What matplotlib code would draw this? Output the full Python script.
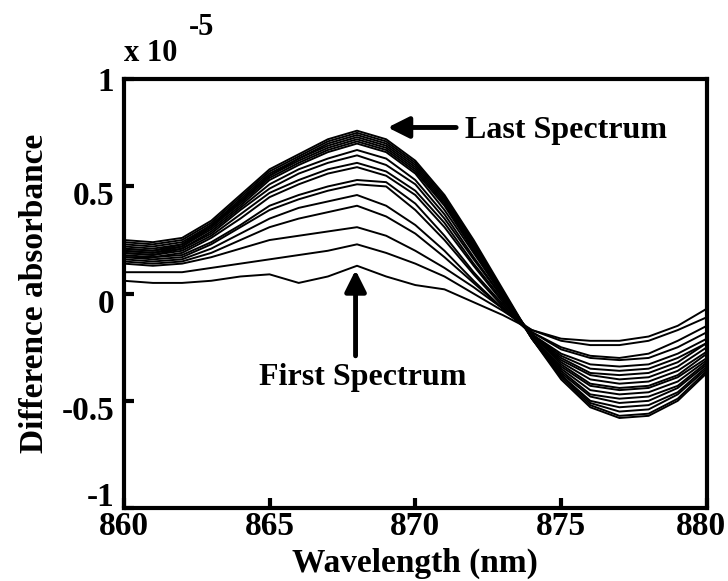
import matplotlib
matplotlib.use("Agg")
import matplotlib.pyplot as plt
from matplotlib.transforms import ScaledTranslation

plt.rcParams['font.family'] = ['Liberation Serif', 'DejaVu Serif']
plt.rcParams['font.weight'] = 'bold'

# wavelength grid (nm)
wavelength = [860, 861, 862, 863, 864, 865, 866, 867, 868, 869, 870,
              871, 872, 873, 874, 875, 876, 877, 878, 879, 880]

# difference absorbance (x 1e-5), first spectrum -> last spectrum
s01 = [0.06, 0.05, 0.05, 0.06, 0.08, 0.09, 0.05, 0.08, 0.13, 0.08, 0.04,
       0.02, -0.04, -0.10, -0.17, -0.21, -0.22, -0.22, -0.20, -0.15, -0.07]
s02 = [0.10, 0.10, 0.10, 0.12, 0.14, 0.16, 0.18, 0.20, 0.23, 0.19, 0.14,
       0.08, 0.00, -0.08, -0.17, -0.22, -0.24, -0.24, -0.22, -0.17, -0.11]
s03 = [0.14, 0.13, 0.14, 0.17, 0.21, 0.25, 0.27, 0.29, 0.31, 0.27, 0.20,
       0.12, 0.03, -0.07, -0.18, -0.25, -0.29, -0.30, -0.28, -0.22, -0.15]
s04 = [0.15, 0.14, 0.15, 0.19, 0.25, 0.31, 0.35, 0.38, 0.41, 0.36, 0.28,
       0.17, 0.05, -0.07, -0.18, -0.26, -0.30, -0.31, -0.30, -0.25, -0.18]
s05 = [0.16, 0.15, 0.16, 0.21, 0.28, 0.35, 0.40, 0.43, 0.46, 0.41, 0.32,
       0.20, 0.06, -0.07, -0.19, -0.28, -0.33, -0.34, -0.33, -0.28, -0.21]
s06 = [0.17, 0.16, 0.17, 0.23, 0.31, 0.39, 0.44, 0.48, 0.51, 0.50, 0.39,
       0.25, 0.09, -0.06, -0.19, -0.29, -0.35, -0.36, -0.35, -0.30, -0.23]
s07 = [0.17, 0.17, 0.18, 0.24, 0.32, 0.41, 0.46, 0.50, 0.53, 0.52, 0.42,
       0.27, 0.10, -0.05, -0.19, -0.30, -0.37, -0.38, -0.37, -0.32, -0.23]
s08 = [0.18, 0.17, 0.19, 0.26, 0.35, 0.45, 0.51, 0.56, 0.59, 0.55, 0.46,
       0.31, 0.13, -0.04, -0.19, -0.31, -0.38, -0.40, -0.39, -0.34, -0.25]
s09 = [0.19, 0.18, 0.20, 0.27, 0.37, 0.47, 0.53, 0.58, 0.61, 0.57, 0.48,
       0.33, 0.14, -0.03, -0.19, -0.32, -0.40, -0.42, -0.41, -0.36, -0.27]
s10 = [0.19, 0.18, 0.21, 0.28, 0.39, 0.49, 0.56, 0.61, 0.645, 0.60, 0.51,
       0.35, 0.16, -0.02, -0.19, -0.33, -0.42, -0.44, -0.43, -0.38, -0.28]
s11 = [0.20, 0.19, 0.21, 0.29, 0.40, 0.51, 0.58, 0.63, 0.67, 0.63, 0.53,
       0.37, 0.17, -0.02, -0.20, -0.34, -0.43, -0.45, -0.44, -0.39, -0.30]
s12 = [0.20, 0.19, 0.22, 0.30, 0.41, 0.53, 0.60, 0.66, 0.70, 0.66, 0.56,
       0.39, 0.19, -0.01, -0.20, -0.35, -0.45, -0.47, -0.46, -0.41, -0.31]
s13 = [0.21, 0.20, 0.22, 0.31, 0.42, 0.54, 0.61, 0.67, 0.71, 0.67, 0.57,
       0.41, 0.20, -0.01, -0.20, -0.36, -0.47, -0.49, -0.48, -0.43, -0.32]
s14 = [0.21, 0.20, 0.23, 0.31, 0.43, 0.55, 0.62, 0.68, 0.72, 0.68, 0.58,
       0.42, 0.21, 0.00, -0.20, -0.37, -0.48, -0.51, -0.50, -0.44, -0.33]
s15 = [0.22, 0.21, 0.23, 0.32, 0.43, 0.55, 0.63, 0.69, 0.73, 0.69, 0.59,
       0.43, 0.22, 0.00, -0.21, -0.38, -0.50, -0.53, -0.52, -0.46, -0.34]
s16 = [0.23, 0.22, 0.24, 0.32, 0.44, 0.56, 0.63, 0.70, 0.74, 0.70, 0.60,
       0.44, 0.23, 0.01, -0.21, -0.38, -0.51, -0.55, -0.54, -0.47, -0.35]
s17 = [0.24, 0.23, 0.25, 0.33, 0.45, 0.57, 0.64, 0.71, 0.75, 0.71, 0.61,
       0.45, 0.24, 0.01, -0.21, -0.39, -0.52, -0.57, -0.56, -0.49, -0.36]
s18 = [0.25, 0.24, 0.26, 0.34, 0.46, 0.58, 0.65, 0.72, 0.76, 0.72, 0.62,
       0.46, 0.25, 0.02, -0.21, -0.40, -0.53, -0.58, -0.57, -0.50, -0.37]

spectra = [s01, s02, s03, s04, s05, s06, s07, s08, s09,
           s10, s11, s12, s13, s14, s15, s16, s17, s18]

xticks = [860, 865, 870, 875, 880]
yticks = [-1, -0.5, 0, 0.5, 1]
ytick_labels = ['-1', '-0.5', '0', '0.5', '1']

fig = plt.figure(figsize=(7.28, 5.81), dpi=100)
ax = fig.add_axes([0.170, 0.1256, 0.801, 0.738])

for s in spectra:
    ax.plot(wavelength, s, color='black', linewidth=1.4)

ax.set_xlim(860, 880)
ax.set_ylim(-1, 1)
ax.set_xticks(xticks)
ax.set_yticks(yticks)
ax.set_yticklabels(ytick_labels)

for sp in ax.spines.values():
    sp.set_linewidth(3)

ax.tick_params(axis='both', direction='in', length=7, width=3,
               labelsize=24, top=False, right=False)
ax.tick_params(axis='y', pad=7)
ax.tick_params(axis='x', pad=2)
for lab in ax.get_xticklabels() + ax.get_yticklabels():
    lab.set_fontweight('bold')

# nudge some tick labels like in the original export
ylabs = ax.get_yticklabels()
ylabs[0].set_transform(ylabs[0].get_transform() + ScaledTranslation(0, 10 / 72, fig.dpi_scale_trans))
for lab in ylabs[1:4]:
    lab.set_transform(lab.get_transform() + ScaledTranslation(0, -5 / 72, fig.dpi_scale_trans))
xlabs = ax.get_xticklabels()
xlabs[-1].set_transform(xlabs[-1].get_transform() + ScaledTranslation(-4 / 72, 0, fig.dpi_scale_trans))

ax.set_xlabel('Wavelength (nm)', fontsize=24, fontweight='bold', labelpad=4)
ax.set_ylabel('Difference absorbance', fontsize=24, fontweight='bold', labelpad=8)

# scale factor text
fig.text(0.170, 0.883, 'x 10', fontsize=22, fontweight='bold', ha='left', va='bottom')
fig.text(0.259, 0.927, '-5', fontsize=22, fontweight='bold', ha='left', va='bottom')

# arrows
arrow = dict(arrowstyle='-|>', color='black', lw=3.5, mutation_scale=32,
             shrinkA=0, shrinkB=0)
ax.annotate('', xy=(869.05, 0.775), xytext=(871.4, 0.775), arrowprops=arrow)
ax.text(871.7, 0.76, 'Last Spectrum', fontsize=23, fontweight='bold',
        ha='left', va='center')
ax.annotate('', xy=(867.95, 0.11), xytext=(867.95, -0.29), arrowprops=arrow)
ax.text(868.2, -0.39, 'First Spectrum', fontsize=23, fontweight='bold',
        ha='center', va='center')

fig.savefig('out.png', dpi=100)
